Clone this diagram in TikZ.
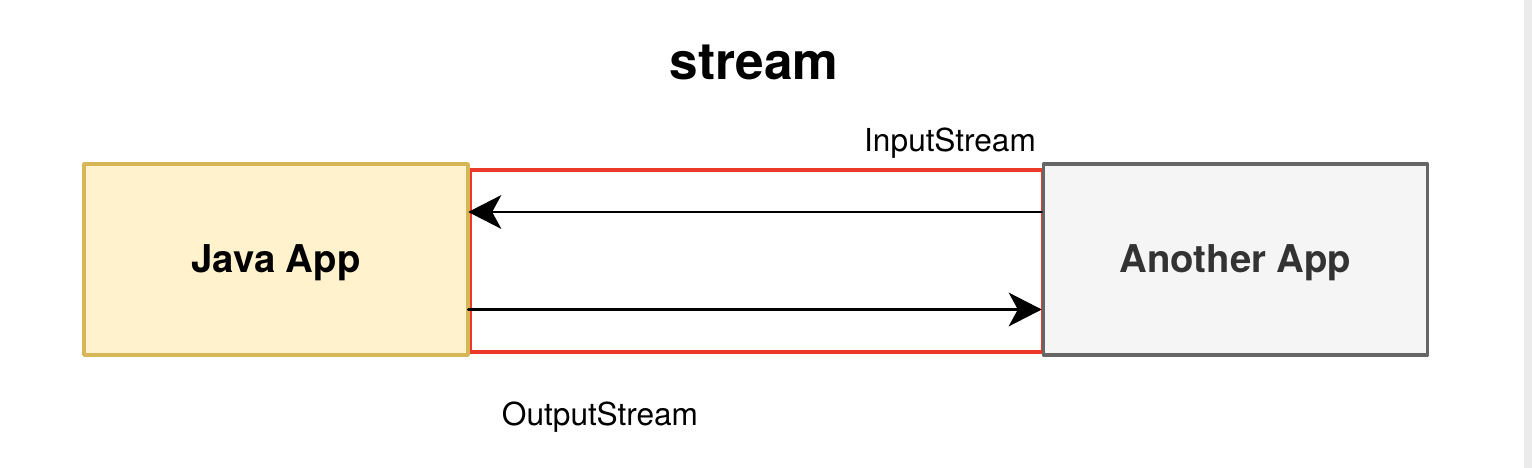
\documentclass[tikz,border=0pt]{standalone}
\usepackage{fontspec}
\setmainfont{TeX Gyre Heros}
\usepackage{tikz}
\usetikzlibrary{arrows.meta}
\definecolor{javafill}{RGB}{255,242,204}
\definecolor{javaline}{RGB}{214,182,86}
\definecolor{otherfill}{RGB}{245,245,245}
\definecolor{otherline}{RGB}{102,102,102}
\definecolor{othertext}{RGB}{51,51,51}
\definecolor{pipeline}{RGB}{235,58,42}
\definecolor{barfill}{RGB}{235,235,235}
\tikzset{
  appbox/.style={draw, line width=1pt, minimum width=3.84cm, minimum height=1.91cm, inner sep=0pt, text height=0.72em, text depth=0pt, font=\fontsize{10.9}{13}\selectfont\bfseries},
  label/.style={inner sep=0pt, font=\fontsize{9}{11}\selectfont}
}

\begin{document}
\begin{tikzpicture}[line cap=round,line join=round,>={Stealth[length=9.4pt,width=9.6pt,inset=2.6pt]},x=1.0cm,y=1.0cm]
\useasboundingbox (0,0) rectangle (15.32,4.68);
\fill[barfill] (15.24,0) rectangle (15.32,4.68);
\node[draw=pipeline, line width=1pt, minimum width=5.73cm, minimum height=1.82cm, inner sep=0pt] (pipe) at (7.565,2.07) {};
\node[appbox, draw=javaline, fill=javafill] (java) at (2.76,2.085) {Java App};
\node[appbox, draw=otherline, fill=otherfill, text=othertext] (other) at (12.355,2.085) {Another App};
\coordinate (instart) at ([yshift=0.475cm]other.west);
\coordinate (outstart) at ([yshift=-0.485cm]pipe.west);
\draw [->, line width=0.7pt] (instart) -- (instart -| pipe.west);
\draw [->, line width=0.7pt] (outstart) -- (outstart -| other.west);
\node[inner sep=0pt, font=\fontsize{14.6}{17}\selectfont\bfseries] (title) at (7.54,4.06) {stream};
\node[label] (instream) at (9.50,3.25) {InputStream};
\node[label] (outstream) at (6.00,0.51) {OutputStream};
\end{tikzpicture}
\end{document}
